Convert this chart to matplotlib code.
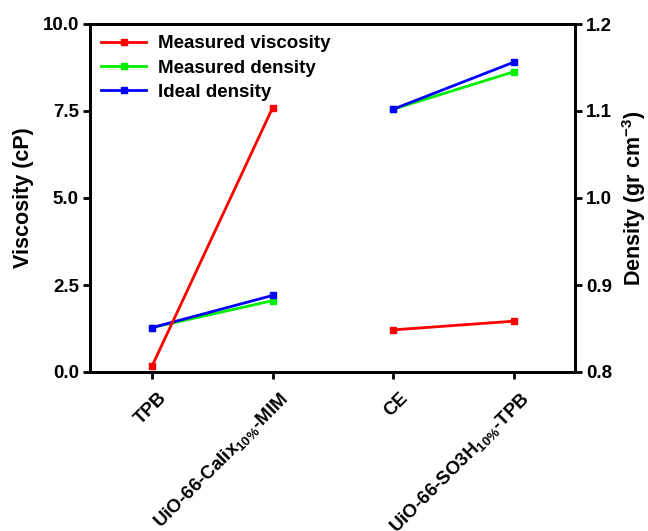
import matplotlib
matplotlib.use("Agg")
import matplotlib.pyplot as plt
from matplotlib.transforms import ScaledTranslation

plt.rcParams['font.family'] = ['Liberation Sans', 'DejaVu Sans']
plt.rcParams['font.weight'] = 'bold'
plt.rcParams['mathtext.fontset'] = 'custom'
plt.rcParams['mathtext.rm'] = 'Liberation Sans'
plt.rcParams['mathtext.bf'] = 'Liberation Sans:bold'
plt.rcParams['mathtext.default'] = 'rm'

categories = ['TPB', r'UiO-66-Calix$_{10\%}$-MIM', 'CE', r'UiO-66-SO3H$_{10\%}$-TPB']
viscosity = [0.17, 7.59, 1.21, 1.46]
measured_density = [0.851, 0.882, 1.102, 1.145]
ideal_density = [0.851, 0.888, 1.102, 1.156]
groups = [(0, 2), (2, 4)]

fig = plt.figure(figsize=(6.48, 5.31), dpi=100)
ax = fig.add_axes([90/648, 1-372/531, (575-90)/648, (372-24)/531])
ax2 = ax.twinx()

x = list(range(len(categories)))
lw = 2.0
ms = 5
handles = []
for i, (a, b) in enumerate(groups):
    l1, = ax.plot(x[a:b], viscosity[a:b], color='#FF0000', lw=lw, marker='s', ms=ms,
                  label='Measured viscosity' if i == 0 else None)
    l2, = ax2.plot(x[a:b], measured_density[a:b], color='#00EE00', lw=lw, marker='s', ms=ms,
                   label='Measured density' if i == 0 else None)
    l3, = ax2.plot(x[a:b], ideal_density[a:b], color='#0000FF', lw=lw, marker='s', ms=ms,
                   label='Ideal density' if i == 0 else None)
    if i == 0:
        handles = [l1, l2, l3]

ax.set_zorder(ax2.get_zorder() + 1)
ax.patch.set_visible(False)

ax.set_xlim(-0.515, 3.51)
ax.set_ylim(0, 10)
ax2.set_ylim(0.8, 1.2)
ax.set_yticks([0, 2.5, 5.0, 7.5, 10.0])
ax.set_yticklabels(['0.0', '2.5', '5.0', '7.5', '10.0'])
ax2.set_yticks([0.8, 0.9, 1.0, 1.1, 1.2])
ax2.set_yticklabels(['0.8', '0.9', '1.0', '1.1', '1.2'])
ax.set_xticks(x)
ax.set_xticklabels(categories, rotation=45, ha='right', rotation_mode='anchor')

for a_ in (ax, ax2):
    for s in a_.spines.values():
        s.set_linewidth(2)
    a_.tick_params(width=2, length=5, labelsize=13.5, direction='out', pad=3)
ax.tick_params(axis='x', pad=8)
offset = ScaledTranslation(0.06, 0.01, fig.dpi_scale_trans)
for lab in ax.get_xticklabels():
    lab.set_transform(lab.get_transform() + offset)

ax.set_ylabel('Viscosity (cP)', fontsize=15.5, fontweight='bold', labelpad=6)
ax2.set_ylabel(r'Density (gr cm$^{\mathbf{-3}}$)', fontsize=15.5, fontweight='bold', labelpad=6)

ax.legend(handles=handles, loc='upper left', frameon=False, fontsize=13.5,
          bbox_to_anchor=(0.0, 1.0), handlelength=2.4, borderaxespad=0.2,
          labelspacing=0.38, handletextpad=0.6)

fig.savefig('out.png', dpi=100)
